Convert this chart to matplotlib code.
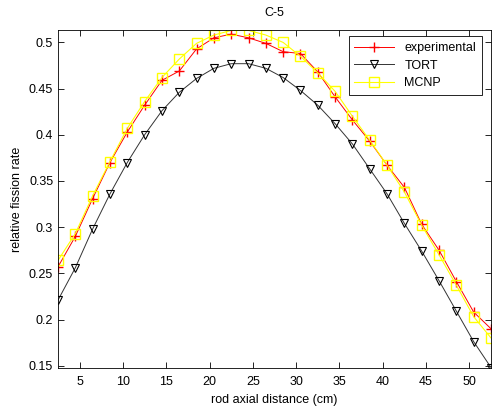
import numpy as np
import matplotlib
matplotlib.use('Agg')
import matplotlib.pyplot as plt

plt.rcParams['font.family'] = ['Liberation Sans', 'DejaVu Sans']

# rod axial positions (cm)
distance = [2.5, 4.5, 6.5, 8.5, 10.5, 12.5, 14.5, 16.5, 18.5, 20.5, 22.5, 24.5, 26.5,
            28.5, 30.5, 32.5, 34.5, 36.5, 38.5, 40.5, 42.5, 44.5, 46.5, 48.5, 50.5, 52.5]

experimental = [0.257, 0.290, 0.331, 0.370, 0.403, 0.432, 0.459, 0.469, 0.493, 0.505,
                0.509, 0.505, 0.499, 0.490, 0.488, 0.468, 0.441, 0.416, 0.393, 0.367,
                0.343, 0.303, 0.275, 0.241, 0.208, 0.190]

tort = [0.221, 0.256, 0.298, 0.336, 0.370, 0.400, 0.426, 0.446, 0.461, 0.472,
        0.477, 0.477, 0.472, 0.462, 0.448, 0.432, 0.412, 0.390, 0.363, 0.336,
        0.304, 0.274, 0.242, 0.209, 0.176, 0.148]

mcnp = [0.264, 0.293, 0.334, 0.371, 0.407, 0.436, 0.462, 0.482, 0.499, 0.508,
        0.513, 0.513, 0.508, 0.500, 0.485, 0.467, 0.447, 0.420, 0.394, 0.367,
        0.338, 0.302, 0.270, 0.237, 0.203, 0.180]

fig = plt.figure(figsize=(4.94, 4.09), dpi=100)
ax = fig.add_axes([0.1174, 0.1002, 0.8766, 0.8265])

ax.plot(distance, experimental, color='r', marker='+', markersize=7, lw=0.7,
        label='experimental')
ax.plot(distance, tort, color='#333333', marker='v', markersize=6, lw=0.7,
        markerfacecolor='none', markeredgecolor='k', markeredgewidth=0.8, label='TORT')
ax.plot(distance, mcnp, color='#ffff00', marker='s', markersize=6.5, lw=0.8,
        markerfacecolor='none', markeredgecolor='#ffff00', label='MCNP')

ax.set_xlim(min(distance), max(distance))
ax.set_ylim(min(tort) - 0.0005, max(mcnp) + 0.0005)
ax.set_xticks(np.arange(5, 55, 5))
ax.set_yticks(np.arange(0.15, 0.51, 0.05))
ax.set_yticklabels(['0.15', '0.2', '0.25', '0.3', '0.35', '0.4', '0.45', '0.5'])
ax.tick_params(direction='in', top=True, right=True, length=4, labelsize=9,
               width=0.6)
ax.tick_params(axis='x', pad=6)
for s in ax.spines.values():
    s.set_linewidth(0.6)

ax.set_xlabel('rod axial distance (cm)', fontsize=9, labelpad=4)
ax.set_ylabel('relative fission rate', fontsize=9, labelpad=4)
ax.set_title('C-5', fontsize=9, pad=10)

leg = ax.legend(loc='upper right', bbox_to_anchor=(0.9785, 0.981), fontsize=9,
                fancybox=False, framealpha=1, edgecolor='k', borderaxespad=0,
                handlelength=3.2, labelspacing=0.45, borderpad=0.45)
leg.get_frame().set_linewidth(0.6)

fig.savefig('out.png', dpi=100)
